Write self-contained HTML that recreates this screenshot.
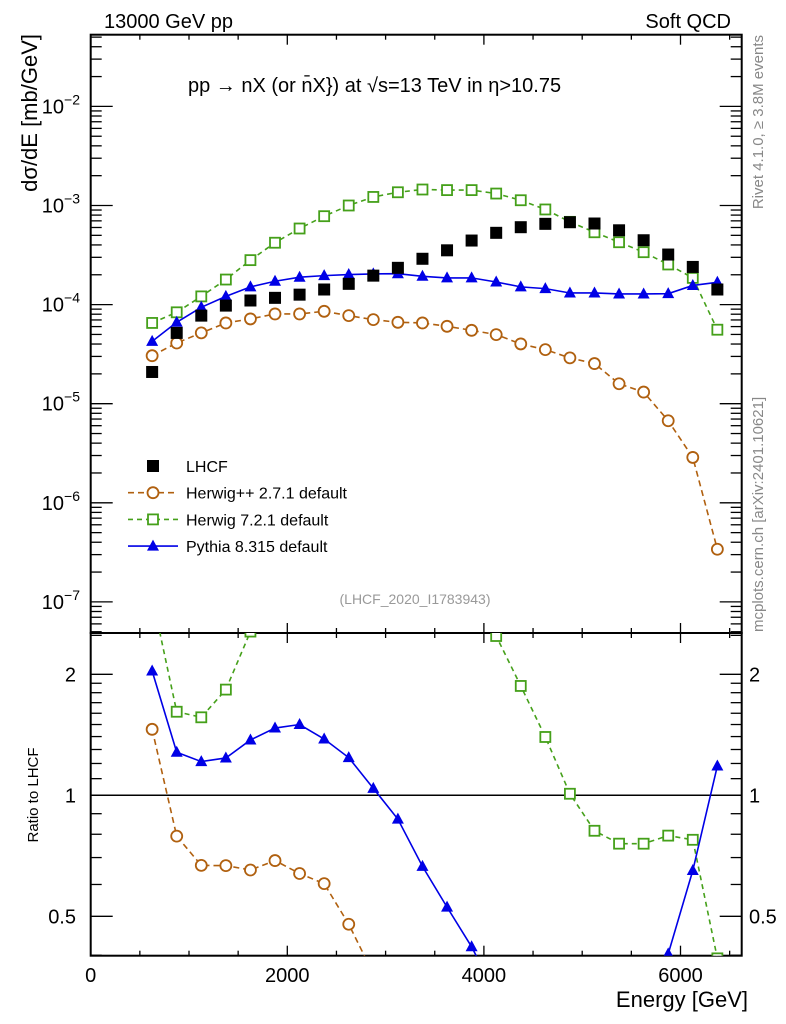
<!DOCTYPE html>
<html><head><meta charset="utf-8">
<style>
html,body{margin:0;padding:0;background:#fff;overflow:hidden;width:786px;height:1024px;}
svg{display:block;font-family:"Liberation Sans",sans-serif;}
</style></head>
<body>
<svg id="chart" width="786" height="1024" viewBox="0 0 786 1024" xmlns="http://www.w3.org/2000/svg">
<defs>
<clipPath id="clipMain"><rect x="90.7" y="34.7" width="651" height="598.3"/></clipPath>
<clipPath id="clipRatio"><rect x="90.7" y="633" width="651" height="322.7"/></clipPath>
</defs>
<g id="axes"></g>
<g id="series-main" clip-path="url(#clipMain)"></g>
<g id="series-ratio" clip-path="url(#clipRatio)"></g>
<text x="104" y="28" font-size="20">13000 GeV pp</text>
<text x="731" y="28" font-size="20" text-anchor="end">Soft QCD</text>
<text x="188" y="92" font-size="20">pp → nX (or n̄X}) at √s=13 TeV in η&gt;10.75</text>
<text transform="translate(37,34) rotate(-90)" font-size="22" text-anchor="end">dσ/dE [mb/GeV]</text>
<text transform="translate(38,795) rotate(-90)" font-size="15" text-anchor="middle">Ratio to LHCF</text>
<text x="748" y="1007" font-size="22" text-anchor="end">Energy [GeV]</text>
<text transform="translate(763,35) rotate(-90)" font-size="15" fill="#888" text-anchor="end">Rivet 4.1.0, ≥ 3.8M events</text>
<text transform="translate(763,632) rotate(-90)" font-size="15" fill="#888" text-anchor="start">mcplots.cern.ch [arXiv:2401.10621]</text>
<text x="415" y="604" font-size="14" fill="#999" text-anchor="middle">(LHCF_2020_I1783943)</text>
<g id="legend"></g>
</svg>
<script>
const energies = [625,875,1125,1375,1625,1875,2125,2375,2625,2875,3125,3375,3625,3875,4125,4375,4625,4875,5125,5375,5625,5875,6125,6375];
const lhcf = [2.09e-5,5.18e-5,7.74e-5,9.77e-5,1.10e-4,1.17e-4,1.26e-4,1.42e-4,1.62e-4,1.96e-4,2.35e-4,2.90e-4,3.53e-4,4.43e-4,5.30e-4,6.04e-4,6.53e-4,6.78e-4,6.58e-4,5.62e-4,4.46e-4,3.20e-4,2.40e-4,1.42e-4];
const herwigpp = [3.05e-5,4.10e-5,5.18e-5,6.53e-5,7.17e-5,8.05e-5,8.05e-5,8.56e-5,7.74e-5,7.05e-5,6.63e-5,6.53e-5,6.04e-5,5.50e-5,4.98e-5,4.01e-5,3.51e-5,2.90e-5,2.54e-5,1.59e-5,1.31e-5,6.73e-6,2.87e-6,3.40e-7];
const herwig7 = [6.53e-5,8.36e-5,1.21e-4,1.79e-4,2.81e-4,4.21e-4,5.86e-4,7.80e-4,1.00e-3,1.22e-3,1.36e-3,1.45e-3,1.43e-3,1.43e-3,1.32e-3,1.13e-3,9.12e-4,6.84e-4,5.37e-4,4.26e-4,3.38e-4,2.54e-4,1.86e-4,5.58e-5];
const pythia = [4.26e-5,6.63e-5,9.39e-5,1.21e-4,1.51e-4,1.72e-4,1.89e-4,1.96e-4,2.01e-4,2.04e-4,2.05e-4,1.93e-4,1.86e-4,1.86e-4,1.69e-4,1.51e-4,1.45e-4,1.31e-4,1.31e-4,1.28e-4,1.28e-4,1.29e-4,1.56e-4,1.68e-4];
const xTicks = [0,2000,4000,6000];
const yExps = [-7,-6,-5,-4,-3,-2];
const ratioTicks = [0.5,1,2];
const ratioTickLabels = ["0.5","1","2"];

const NS = "http://www.w3.org/2000/svg";
const L=90.7, R=741.7, T=34.7, MB=633, RB=955.7;
function xs(e){ return L + e*0.0983; }
function ym(v){ return 205.5 - (Math.log10(v)+3)*99.1; }
function yr(r){ return 795.3 - Math.log2(r)*121; }
function mk(tag, attrs, parent){ const el=document.createElementNS(NS,tag); for(const k in attrs) el.setAttribute(k,attrs[k]); parent.appendChild(el); return el; }

const axes = document.getElementById('axes');
let f = mk('rect',{x:L,y:T,width:R-L,height:MB-T,fill:'none',stroke:'#000','stroke-width':2},axes);


f = mk('rect',{x:L,y:MB,width:R-L,height:RB-MB,fill:'none',stroke:'#000','stroke-width':2},axes);


for(let e=0;e<=6500;e+=500){
  const x=xs(e); const maj = e%2000===0; const len = maj?10:5;
  for (const yy of [[T,1],[MB,-1],[MB,1],[RB,-1]]) {
    const t = mk('line',{x1:x,x2:x,y1:yy[0],y2:yy[0]+yy[1]*len,stroke:'#000','stroke-width':1.3},axes);
    
    
  }
}
xTicks.forEach(e=>{
  const t = mk('text',{x:xs(e),y:982,'font-size':20,'text-anchor':'middle'},axes);
  t.textContent = e;
  
  
});
for(let p=-8;p<=-1;p++){
  for(let m=1;m<=9;m++){
    const v=m*Math.pow(10,p); const y=ym(v);
    if(y<T||y>MB) continue;
    const len = m===1?22:11;
    const a = mk('line',{x1:L,x2:L+len,y1:y,y2:y,stroke:'#000','stroke-width':1.3},axes);
    
    
    const b = mk('line',{x1:R,x2:R-len,y1:y,y2:y,stroke:'#000','stroke-width':1.3},axes);
    
    
  }
}
yExps.forEach(p=>{
  const t = mk('text',{x:80,y:ym(Math.pow(10,p))+7,'font-size':20,'text-anchor':'end'},axes);
  
  
  t.innerHTML = '10<tspan dy="-9" font-size="14">−'+(-p)+'</tspan>';
});
[0.4,0.5,0.6,0.7,0.8,0.9,1,1.1,1.2,1.3,1.4,1.5,1.6,1.7,1.8,1.9,2,2.5].forEach(r=>{
  const y=yr(r); if(y<MB||y>RB) return;
  const len = (r===0.5||r===1||r===2)?22:11;
  const a = mk('line',{x1:L,x2:L+len,y1:y,y2:y,stroke:'#000','stroke-width':1.3},axes);
  
  
  const b = mk('line',{x1:R,x2:R-len,y1:y,y2:y,stroke:'#000','stroke-width':1.3},axes);
  
  
});
ratioTicks.forEach((r,i)=>{
  const a = mk('text',{x:76,y:yr(r)+7,'font-size':20,'text-anchor':'end'},axes);
  a.textContent = ratioTickLabels[i];
  
  
  const b = mk('text',{x:749,y:yr(r)+7,'font-size':20},axes);
  b.textContent = ratioTickLabels[i];
  
  
});
const one = mk('line',{x1:L,x2:R,y1:yr(1),y2:yr(1),stroke:'#000','stroke-width':1.5},axes);



function marker(kind,x,y,color,parent,name){
  let el;
  if(kind==='sq') el=mk('rect',{x:x-6,y:y-6,width:12,height:12,fill:color},parent);
  else if(kind==='osq') el=mk('rect',{x:x-5,y:y-5,width:10,height:10,fill:'#fff',stroke:color,'stroke-width':1.8},parent);
  else if(kind==='circ') el=mk('circle',{cx:x,cy:y,r:5.5,fill:'#fff',stroke:color,'stroke-width':1.8},parent);
  else el=mk('path',{d:`M${x-6},${y+4.5} L${x+6},${y+4.5} L${x},${y-6.5} Z`,fill:color},parent);
  
  
}
function line(pts,color,dash,parent,name){
  const el = mk('polyline',{points:pts.map(p=>p.join(',')).join(' '),fill:'none',stroke:color,'stroke-width':1.6,'stroke-dasharray':dash||'none'},parent);
  
  
}
const gm = document.getElementById('series-main');
const gr = document.getElementById('series-ratio');
const BROWN='#b0600f', GREEN='#45a01a', BLUE='#0000e6';
const series = [
  {d:herwigpp,c:BROWN,k:'circ',dash:'6,4',n:'herwigpp'},
  {d:herwig7,c:GREEN,k:'osq',dash:'5,4',n:'herwig7'},
  {d:pythia,c:BLUE,k:'tri',dash:null,n:'pythia'}
];
series.forEach(s=>{
  line(energies.map((e,i)=>[xs(e),ym(s.d[i])]),s.c,s.dash,gm,s.n+'-line');
  energies.forEach((e,i)=>marker(s.k,xs(e),ym(s.d[i]),s.c,gm,s.n+'-point'));
  const rat = s.d.map((v,i)=>v/lhcf[i]);
  line(energies.map((e,i)=>[xs(e),yr(rat[i])]),s.c,s.dash,gr,s.n+'-ratio-line');
  energies.forEach((e,i)=>marker(s.k,xs(e),yr(rat[i]),s.c,gr,s.n+'-ratio-point'));
});
energies.forEach((e,i)=>marker('sq',xs(e),ym(lhcf[i]),'#000',gm,'lhcf-point'));

const lg = document.getElementById('legend');
const leg = [
  {k:'sq',c:'#000',t:'LHCF',line:false},
  {k:'circ',c:BROWN,t:'Herwig++ 2.7.1 default',line:true,dash:'6,4'},
  {k:'osq',c:GREEN,t:'Herwig 7.2.1 default',line:true,dash:'5,4'},
  {k:'tri',c:BLUE,t:'Pythia 8.315 default',line:true,dash:null}
];
leg.forEach((it,i)=>{
  const y=466+i*26.7;
  if(it.line){
    const l = mk('line',{x1:128,x2:178,y1:y,y2:y,stroke:it.c,'stroke-width':1.6,'stroke-dasharray':it.dash||'none'},lg);
    
    
  }
  marker(it.k,153,y,it.c,lg,'legend-marker');
  const t = mk('text',{x:186,y:y+6,'font-size':16},lg);
  t.textContent = it.t;
  
  
});
</script>
</body></html>
